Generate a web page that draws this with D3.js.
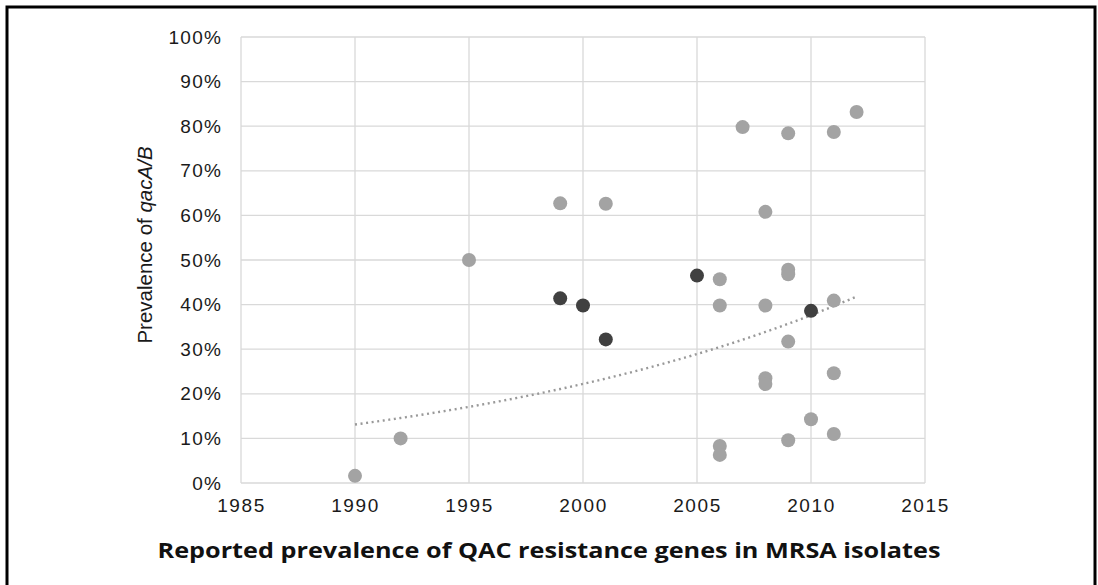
<!DOCTYPE html>
<html>
<head>
<meta charset="utf-8">
<script src="https://cdn.jsdelivr.net/npm/d3@7"></script>
<style>
  body { margin: 0; background: #fff; }
  svg { display: block; }
</style>
</head>
<body>
<div id="chart"></div>
<script>
// data (year, % prevalence)
var lightYears  = [1990, 1992, 1995, 1999, 2001, 2006, 2006, 2006, 2006, 2007, 2008, 2008, 2008, 2008,
                   2009, 2009, 2009, 2009, 2009, 2010, 2011, 2011, 2011, 2011, 2012];
var lightValues = [1.6, 10, 50, 62.7, 62.6, 45.7, 39.8, 8.3, 6.3, 79.8, 60.8, 39.8, 23.5, 22.2,
                   78.4, 47.8, 46.8, 31.7, 9.6, 14.3, 78.7, 40.9, 24.6, 11.0, 83.2];
var darkYears   = [1999, 2000, 2001, 2005, 2010];
var darkValues  = [41.4, 39.8, 32.2, 46.5, 38.6];
var xTicks = [1985, 1990, 1995, 2000, 2005, 2010, 2015];
var yTicks = [0, 10, 20, 30, 40, 50, 60, 70, 80, 90, 100];

var W = 1098, H = 585;
var margin = {top: 37, right: 173, bottom: 102, left: 241},
    width = W - margin.left - margin.right,
    height = H - margin.top - margin.bottom;

var svg = d3.select("#chart").append("svg")
    .attr("width", W)
    .attr("height", H);

// outer frame
svg.append("rect")
    .attr("x", 7).attr("y", 7)
    .attr("width", 1088).attr("height", 600)
    .attr("fill", "none")
    .attr("stroke", "#000")
    .attr("stroke-width", 3);

var g = svg.append("g")
    .attr("transform", "translate(" + margin.left + "," + margin.top + ")");

var x = d3.scaleLinear().domain([1985, 2015]).range([0, width]);
var y = d3.scaleLinear().domain([0, 100]).range([height, 0]);

// grid
g.selectAll(".hgrid").data(yTicks).enter().append("line")
    .attr("x1", 0).attr("x2", width)
    .attr("y1", d => y(d)).attr("y2", d => y(d))
    .attr("stroke", "#d9d9d9").attr("stroke-width", 1.3);
g.selectAll(".vgrid").data(xTicks).enter().append("line")
    .attr("x1", d => x(d)).attr("x2", d => x(d))
    .attr("y1", 0).attr("y2", height)
    .attr("stroke", "#d9d9d9").attr("stroke-width", 1.3);

var yAxis = d3.axisLeft(y).tickValues(yTicks).tickSize(0).tickPadding(19)
    .tickFormat(d => d + "%");
var xAxis = d3.axisBottom(x).tickValues(xTicks).tickSize(0).tickPadding(16)
    .tickFormat(d3.format("d"));

g.append("g").call(yAxis)
    .call(a => a.select(".domain").remove())
    .selectAll("text")
    .attr("font-family", "'Liberation Sans', Arial, sans-serif")
    .attr("font-size", 19).attr("letter-spacing", 1.2).attr("fill", "#1a1a1a");
g.append("g").attr("transform", "translate(0," + height + ")").call(xAxis)
    .call(a => a.select(".domain").remove())
    .selectAll("text")
    .attr("font-family", "'Liberation Sans', Arial, sans-serif")
    .attr("font-size", 19).attr("letter-spacing", 1.6).attr("fill", "#1a1a1a");

// exponential trend fitted to all points (least squares on ln y)
var allX = lightYears.concat(darkYears), allY = lightValues.concat(darkValues);
var mx = d3.mean(allX), my = d3.mean(allY, v => Math.log(v));
var sxy = d3.sum(allX, (v, i) => (v - mx) * (Math.log(allY[i]) - my));
var sxx = d3.sum(allX, v => (v - mx) * (v - mx));
var b = sxy / sxx, a = my - b * mx;
var trendX = d3.range(d3.min(allX), d3.max(allX) + 0.01, 0.25);
g.append("path")
    .datum(trendX)
    .attr("fill", "none")
    .attr("stroke", "#999")
    .attr("stroke-width", 2.4)
    .attr("stroke-dasharray", "2,3.6")
    .attr("d", d3.line().x(d => x(d)).y(d => y(Math.exp(a + b * d))));

// points
g.selectAll(".light").data(lightYears).enter().append("circle")
    .attr("cx", d => x(d))
    .attr("cy", (d, i) => y(lightValues[i]))
    .attr("r", 7)
    .attr("fill", "#a3a3a3");
g.selectAll(".dark").data(darkYears).enter().append("circle")
    .attr("cx", d => x(d))
    .attr("cy", (d, i) => y(darkValues[i]))
    .attr("r", 7)
    .attr("fill", "#404040");

// y axis title
var yt = svg.append("text")
    .attr("transform", "translate(152," + (margin.top + height / 2 - 15) + ") rotate(-90)")
    .attr("text-anchor", "middle")
    .attr("font-family", "'Liberation Sans', Arial, sans-serif")
    .attr("font-size", 20.5)
    .attr("fill", "#1a1a1a");
yt.append("tspan").text("Prevalence of ");
yt.append("tspan").attr("font-style", "italic").text("qacA/B");

// bottom caption
svg.append("text")
    .attr("x", 549).attr("y", 558)
    .attr("text-anchor", "middle")
    .attr("font-family", "'Open Sans', sans-serif")
    .attr("font-weight", "bold")
    .attr("font-size", 22)
    .attr("textLength", 783)
    .attr("lengthAdjust", "spacingAndGlyphs")
    .attr("fill", "#111")
    .text("Reported prevalence of QAC resistance genes in MRSA isolates");
</script>
</body>
</html>
